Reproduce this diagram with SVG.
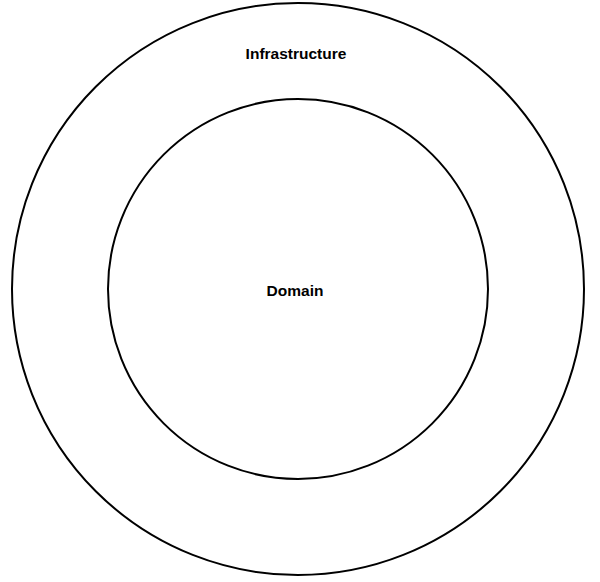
<svg xmlns="http://www.w3.org/2000/svg" width="600" height="582" viewBox="0 0 600 582">
<style>
.ring{fill:none;stroke:#000;stroke-width:2}
.lbl{font-family:"Liberation Sans",Arial,sans-serif;font-weight:bold;font-size:15.5px;fill:#000;text-anchor:middle}
</style>
<rect width="600" height="582" fill="#fff"/>
<g id="infrastructure">
<circle class="ring" cx="298" cy="289" r="286"/>
<text class="lbl" x="296" y="59">Infrastructure</text>
</g>
<g id="domain">
<circle class="ring" cx="298" cy="289" r="190"/>
<text class="lbl" x="295" y="296">Domain</text>
</g>
<g id="connectors"></g>
</svg>
